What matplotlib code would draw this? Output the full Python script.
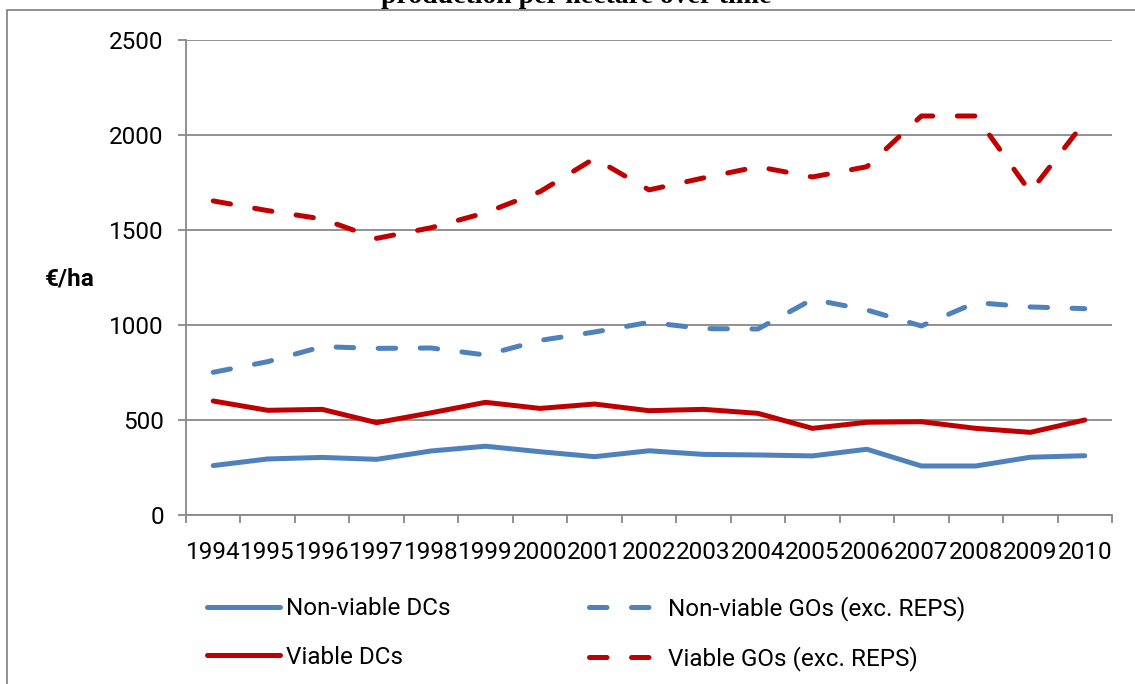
import numpy as np
import matplotlib
matplotlib.use("Agg")
import matplotlib.pyplot as plt
from matplotlib.patches import Rectangle

# valeurs (€/ha)
years = [str(y) for y in range(1994, 2011)]
nonviable_dc = [260, 295, 303, 293, 337, 362, 333, 307, 338, 319, 316, 311, 346, 258, 258, 304, 312]
nonviable_go = [751, 807, 886, 877, 879, 842, 919, 963, 1014, 981, 979, 1135, 1079, 995, 1118, 1095, 1086]
viable_dc = [600, 551, 556, 486, 538, 593, 561, 584, 549, 556, 535, 456, 488, 491, 456, 435, 500]
viable_go = [1653, 1602, 1558, 1456, 1512, 1591, 1702, 1877, 1711, 1774, 1833, 1779, 1833, 2100, 2100, 1700, 2070]

labels = ["Non-viable DCs", "Viable DCs", "Non-viable GOs (exc. REPS)", "Viable GOs (exc. REPS)"]
yticks = [0, 500, 1000, 1500, 2000, 2500]

blue = "#4F81BD"
red = "#C00000"
grey = "#888888"
W, H = 1135, 684
fs = 17.5

plt.rcParams["font.family"] = ["Roboto", "DejaVu Sans"]

fig = plt.figure(figsize=(W / 100, H / 100), dpi=100)
ax = fig.add_axes([186 / W, 1 - 515 / H, 926 / W, 475 / H])

x = np.arange(len(years))
lw = 3.6
dash = (3.5, 4.9)
l1, = ax.plot(x, nonviable_dc, color=blue, lw=lw, solid_capstyle="round", solid_joinstyle="round")
l2, = ax.plot(x, viable_dc, color=red, lw=lw, solid_capstyle="round", solid_joinstyle="round")
l3, = ax.plot(x, nonviable_go, color=blue, lw=lw, dashes=dash, dash_capstyle="round", dash_joinstyle="round")
l4, = ax.plot(x, viable_go, color=red, lw=lw, dashes=dash, dash_capstyle="round", dash_joinstyle="round")

ax.set_xlim(-0.5, len(years) - 0.5)
ax.set_ylim(0, 2500)
ax.set_yticks(yticks)
ax.grid(axis="y", color=grey, lw=1.3)
ax.set_axisbelow(True)

# ticks majeurs entre les catégories, étiquettes au centre
ax.set_xticks(np.arange(-0.5, len(years), 1.0))
ax.set_xticklabels([])
ax.set_xticks(x, minor=True)
ax.set_xticklabels(years, minor=True, fontsize=fs)
ax.tick_params(axis="x", which="major", direction="out", length=6, width=1.3, color=grey)
ax.tick_params(axis="x", which="minor", length=0, pad=19)
ax.tick_params(axis="y", direction="out", length=6, width=1.3, color=grey, labelsize=fs, pad=10)

for s in ["top", "right"]:
    ax.spines[s].set_visible(False)
for s in ["left", "bottom"]:
    ax.spines[s].set_color(grey)
    ax.spines[s].set_linewidth(1.3)

fig.text(45 / W, 1 - 279 / H, "€/ha", fontsize=fs, fontweight="bold", ha="left", va="center")

# titre coupé en haut de l'image
fig.text(576 / W, 1 - 3 / H, "production per hectare over time", family="Liberation Serif",
         fontsize=20, fontweight="bold", ha="center", va="baseline")

# cadre extérieur du graphique
fig.add_artist(Rectangle((7 / W, -0.1), 1.2, 1.1 - 10 / H, transform=fig.transFigure,
                         fill=False, ec=grey, lw=1.3))

fig.legend([l1, l2, l3, l4], labels, ncol=2, frameon=False, fontsize=fs,
           loc="upper left", bbox_to_anchor=(185 / W, 1 - 574 / H),
           handlelength=3.0, handletextpad=0.25, columnspacing=5.7, labelspacing=1.05)

fig.savefig("out.png", dpi=100)
